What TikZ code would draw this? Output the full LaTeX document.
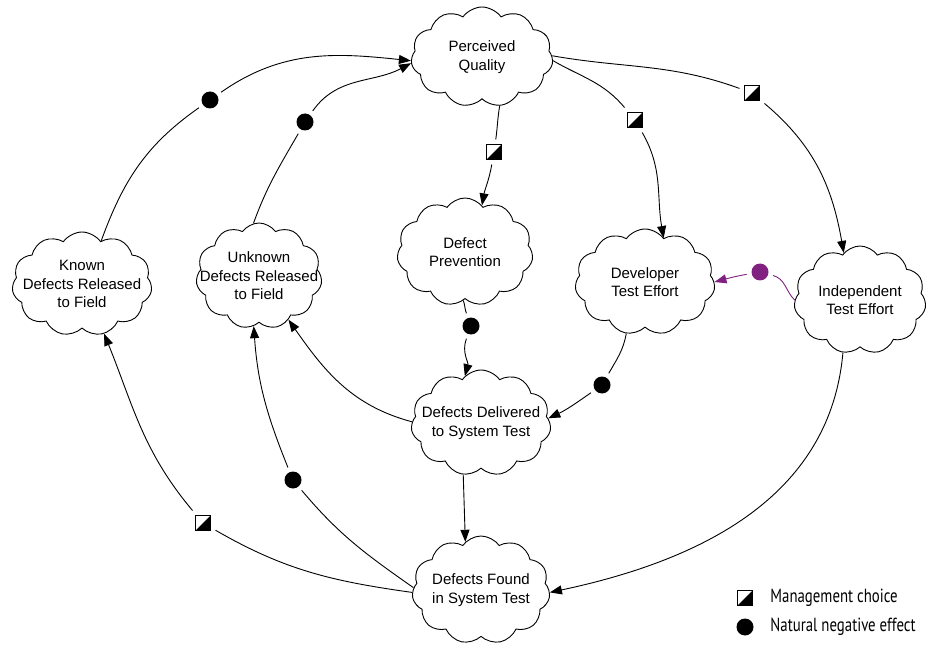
\documentclass[tikz,border=0pt]{standalone}
\usepackage{fontspec}
\setmainfont{Liberation Sans}
\newfontfamily\legendfont[FakeStretch=0.78]{PT Sans}
\usetikzlibrary{arrows.meta, shapes.symbols}
\definecolor{negpurple}{RGB}{128,32,128}

\begin{document}
\begin{tikzpicture}[x=1pt, y=1pt,
                >={Triangle[length=12pt,width=9pt]},
      every path/.style = {line width=0.9pt},
        cloudbox/.style = {cloud, draw, cloud puffs=11, cloud puff arc=110,
                           cloud ignores aspect, inner xsep=-30pt, inner ysep=-14pt,
                           align=center, font=\fontsize{15}{18.5}\selectfont},
            mgmt/.style = {rectangle, draw, line width=1.3pt, fill=white,
                           minimum size=15pt, inner sep=0pt, outer sep=5pt,
                           path picture={\fill[black] (path picture bounding box.south west)
                             -- (path picture bounding box.south east)
                             -- (path picture bounding box.north east) -- cycle;}},
             neg/.style = {circle, fill, minimum size=17pt, inner sep=0pt, outer sep=5pt},
          legtxt/.style = {anchor=west, inner sep=0pt, font=\legendfont\fontsize{19}{22}\selectfont}
                        ]
\path[use as bounding box] (0,0) rectangle (935,-647);
% clouds
\node (pq)    [cloudbox, minimum width=142pt, minimum height=100pt] at (482,-57)  {Perceived\\Quality};
\node (dp)    [cloudbox, minimum width=136pt, minimum height=108pt] at (465,-252) {Defect\\Prevention};
\node (dev)   [cloudbox, minimum width=140pt, minimum height=106pt] at (645,-282) {Developer\\Test Effort};
\node (ind)   [cloudbox, minimum width=132pt, minimum height=108pt] at (860,-300) {Independent\\Test Effort};
\node (known) [cloudbox, minimum width=140pt, minimum height=104pt] at (82,-284)  {Known\\Defects Released\\to Field};
\node (unk)   [cloudbox, minimum width=126pt, minimum height=106pt] at (259,-276) {Unknown\\Defects Released\\to Field};
\node (dds)   [cloudbox, minimum width=140pt, minimum height=106pt] at (481,-423) {Defects Delivered\\to System Test};
\node (ddf)   [cloudbox, minimum width=138pt, minimum height=108pt] at (481,-590) {Defects Found\\in System Test};
% markers
\node (m-known) [neg]  at (210,-100) {};
\node (m-unk)   [neg]  at (305,-122) {};
\node (m-dp)    [mgmt] at (494,-152) {};
\node (m-dev)   [mgmt] at (635,-120) {};
\node (m-ind)   [mgmt] at (752,-93)  {};
\node (m-pur)   [neg, negpurple] at (760,-272) {};
\node (m-dpd)   [neg]  at (471,-326) {};
\node (m-devd)  [neg]  at (602,-385) {};
\node (m-kn)    [mgmt] at (203,-523) {};
\node (m-un)    [neg]  at (293,-480) {};
% connectors
\draw[->] (known.66) to[out=70, in=215] (m-known) to[out=35, in=174] (pq.183);
\draw[->] (unk.96) to[out=70, in=240] (m-unk) to[out=55, in=208] (pq.185);
\draw[->] (pq.290) to[out=-100, in=82] (m-dp) to[out=-100, in=80] (dp.70);
\draw[->] (pq.-3) to[out=-30, in=130] (m-dev) to[out=-60, in=100] (dev.67);
\draw[->] (pq.1) to[out=-10, in=160] (m-ind) to[out=-40, in=100] (ind.109);
\draw[->, negpurple] (ind.180) to[out=135, in=-15] (m-pur) to[out=190, in=15] (dev.0);
\draw[->] (dp.268) to[out=-70, in=110] (m-dpd) to[out=-110, in=75] (dds.109);
\draw[->] (dev.250) to[out=-100, in=60] (m-devd) to[out=-145, in=25] (dds.4);
\draw[->] (dds.179) to[out=165, in=-55] (unk.304);
\draw[->] (dds.251) -- (ddf.108);
\draw[->] (ind.252) to[out=-95, in=12] (ddf.-2);
\draw[->] (ddf.182) to[out=172, in=-30] (m-kn) to[out=130, in=-68] (known.294);
\draw[->] (ddf.178) to[out=145, in=-50] (m-un) to[out=112, in=-86] (unk.264);
% legend
\node (leg-m)  [mgmt] at (745,-598) {};
\node (leg-n)  [neg]  at (745,-627) {};
\node (leg-mt) [legtxt] at (770,-598) {Management choice};
\node (leg-nt) [legtxt] at (770,-627) {Natural negative effect};
\end{tikzpicture}
\end{document}
